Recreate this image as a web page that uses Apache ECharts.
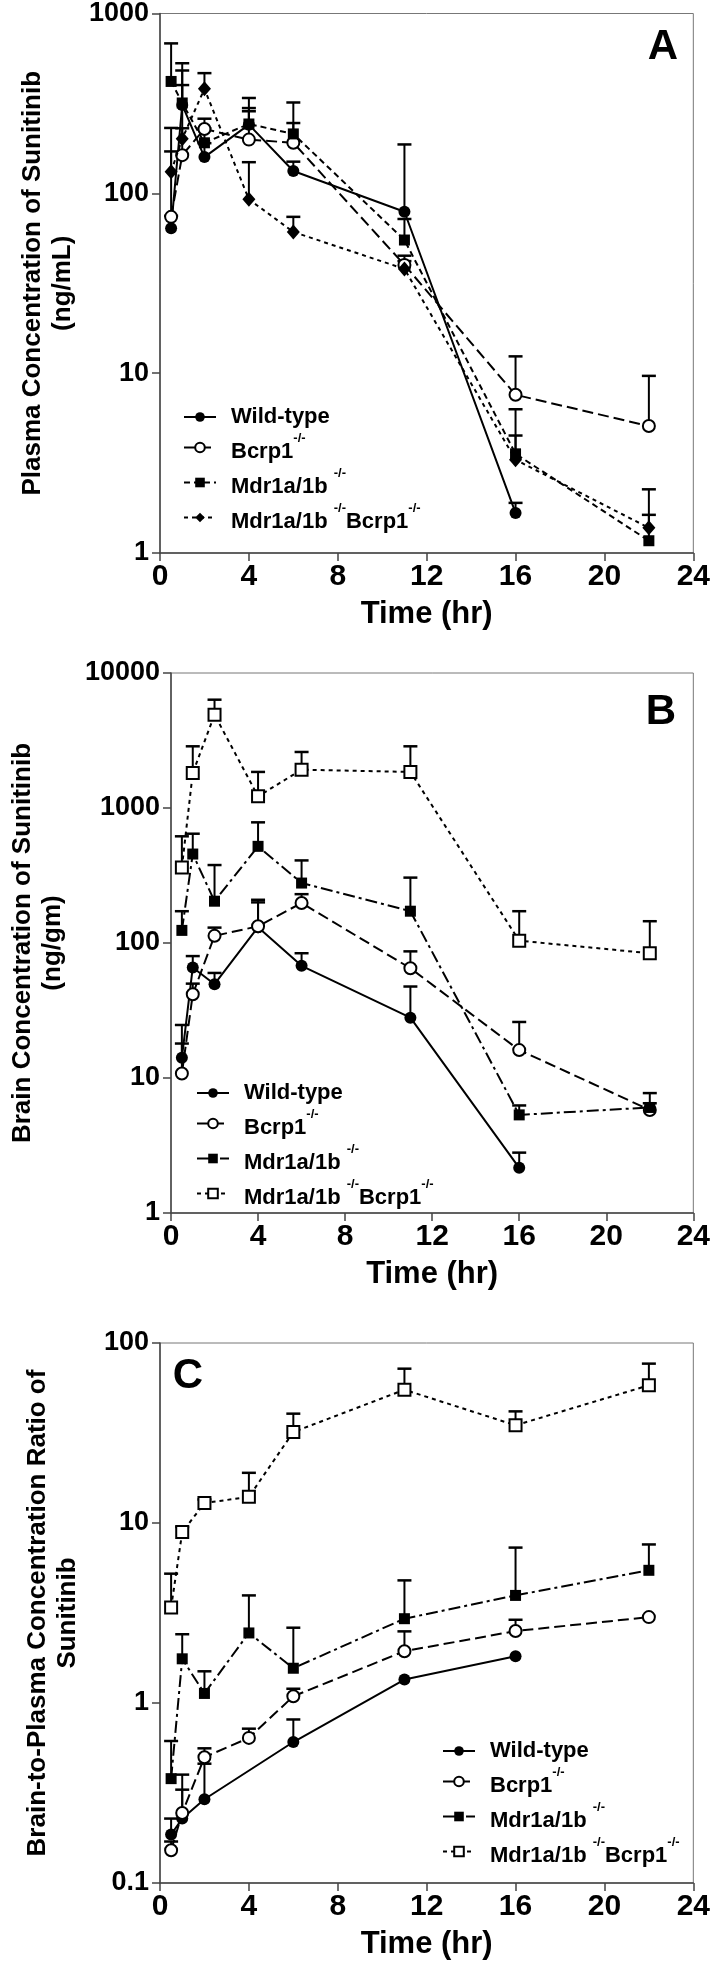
<!DOCTYPE html>
<html>
<head>
<meta charset="utf-8">
<script src="https://cdn.jsdelivr.net/npm/echarts@6/dist/echarts.min.js"></script>
<style>
html,body{margin:0;padding:0;background:#fff;}
#chart{width:713px;height:1964px;}
</style>
</head>
<body>
<div id="chart"></div>
<script>
// ---------- data ----------
const times = [0.5, 1, 2, 4, 6, 11, 16, 22];
const groupNames = ['Wild-type', 'Bcrp1', 'Mdr1a/1b', 'Mdr1a/1b Bcrp1'];
const xTicks = [0, 4, 8, 12, 16, 20, 24];

// Panel A: plasma concentration (ng/mL), mean and mean+SD
const plasmaWT      = [64, 310, 159, 241, 133, 79, 1.67, null];
const plasmaWTUp    = [75, 400, 190, 298, 150, 187, 1.9, null];
const plasmaBcrp    = [74, 163, 228, 199, 191, 40, 7.58, 5.08];
const plasmaBcrpUp  = [171, 230, 260, 286, 246, 45, 12.4, 9.66];
const plasmaMdr     = [419, 318, 191, 243, 214, 55, 3.56, 1.17];
const plasmaMdrUp   = [682, 529, 230, 339, 320, 72, 6.3, 1.63];
const plasmaDKO     = [132, 201, 381, 92.6, 61, 38, 3.3, 1.38];
const plasmaDKOUp   = [231, 482, 466, 149, 74, 42, 4.5, 2.26];

// Panel B: brain concentration (ng/gm)
const brainWT       = [14.1, 65.9, 49.5, 131, 67.8, 28, 2.16, null];
const brainWTUp     = [24.7, 80, 60, 209, 84, 47.6, 2.8, null];
const brainBcrp     = [10.8, 41.7, 113, 133, 198, 65, 16.1, 5.8];
const brainBcrpUp   = [18, 50, 130, 200, 230, 86.7, 26, 6.5];
const brainMdr      = [124, 456, 204, 520, 278, 172, 5.33, 6.05];
const brainMdrUp    = [172, 645, 378, 783, 409, 305, 6.26, 7.73];
const brainDKO      = [363, 1816, 4914, 1220, 1923, 1850, 104, 84];
const brainDKOUp    = [617, 2864, 6343, 1850, 2600, 2864, 172, 145];

// Panel C: brain-to-plasma ratio
const ratioWT       = [0.186, 0.228, 0.292, null, 0.607, 1.35, 1.82, null];
const ratioWTUp     = [0.228, 0.33, 0.46, null, 0.81, null, null, null];
const ratioBcrp     = [0.152, 0.245, 0.50, 0.64, 1.09, 1.94, 2.51, 3.0];
const ratioBcrpUp   = [0.17, 0.40, 0.56, 0.72, 1.2, 2.5, 2.9, null];
const ratioMdr      = [0.38, 1.76, 1.13, 2.45, 1.56, 2.94, 3.96, 5.46];
const ratioMdrUp    = [0.615, 2.41, 1.5, 3.96, 2.62, 4.8, 7.3, 7.6];
const ratioDKO      = [3.39, 8.9, 12.9, 13.97, 32, 55, 34.9, 58.2];
const ratioDKOUp    = [5.23, 9.5, 13.5, 19, 40.5, 72, 41.7, 76.8];

// ---------- styling / layout ----------
const FONT_N = '"Liberation Sans Narrow", "Liberation Sans", Arial, sans-serif';
const FONT = '"Liberation Sans", Arial, sans-serif';

const panels = [
  { key: 'A', top: 12, height: 541, ymin: 1, ymax: 1000,
    yname: 'Plasma Concentration of Sunitinib\n(ng/mL)', nameGap: 82,
    legend: { left: 178, top: 401 }, tag: { x: 663, y: 47 },
    groups: [
      { v: plasmaWT, u: plasmaWTUp, sym: 'circle', size: 12, open: false, dash: 'solid' },
      { v: plasmaBcrp, u: plasmaBcrpUp, sym: 'circle', size: 12, open: true, dash: [11, 5] },
      { v: plasmaMdr, u: plasmaMdrUp, sym: 'rect', size: 11, open: false, dash: [6, 4] },
      { v: plasmaDKO, u: plasmaDKOUp, sym: 'diamond', size: [13, 15], open: false, dash: [4, 4] }
    ] },
  { key: 'B', top: 673, height: 540, ymin: 1, ymax: 10000,
    yname: 'Brain Concentration of Sunitinib\n(ng/gm)', nameGap: 103,
    legend: { left: 191, top: 1077 }, tag: { x: 661, y: 712 },
    groups: [
      { v: brainWT, u: brainWTUp, sym: 'circle', size: 12, open: false, dash: 'solid' },
      { v: brainBcrp, u: brainBcrpUp, sym: 'circle', size: 12, open: true, dash: [11, 5] },
      { v: brainMdr, u: brainMdrUp, sym: 'rect', size: 11, open: false, dash: [12, 4, 3, 4] },
      { v: brainDKO, u: brainDKOUp, sym: 'rect', size: 12, open: true, dash: [4, 4] }
    ] },
  { key: 'C', top: 1343, height: 540, ymin: 0.1, ymax: 100,
    yname: 'Brain-to-Plasma Concentration Ratio of\nSunitinib', nameGap: 77,
    legend: { left: 437, top: 1735 }, tag: { x: 188, y: 1376 },
    groups: [
      { v: ratioWT, u: ratioWTUp, sym: 'circle', size: 12, open: false, dash: 'solid' },
      { v: ratioBcrp, u: ratioBcrpUp, sym: 'circle', size: 12, open: true, dash: [11, 5] },
      { v: ratioMdr, u: ratioMdrUp, sym: 'rect', size: 11, open: false, dash: [12, 4, 3, 4] },
      { v: ratioDKO, u: ratioDKOUp, sym: 'rect', size: 12, open: true, dash: [4, 4] }
    ] }
];

const grid = [], xAxis = [], yAxis = [], series = [], legend = [], graphic = [];

function legendLabel(name) {
  const n = name.split('|')[1];
  if (n === 'Wild-type') return '{w|Wild-type}';
  if (n === 'Bcrp1') return '{t|Bcrp1}{s|-/-}';
  if (n === 'Mdr1a/1b') return '{t|Mdr1a/1b }{s|-/-}';
  return '{t|Mdr1a/1b }{s|-/-}{u|Bcrp1}{s|-/-}';
}

function errRender(params, api) {
  const x = api.value(0), y = api.value(1), u = api.value(2);
  const p0 = api.coord([x, y]);
  const p1 = api.coord([x, u]);
  return {
    type: 'group',
    children: [
      { type: 'line', shape: { x1: p0[0], y1: p0[1], x2: p1[0], y2: p1[1] },
        style: { stroke: '#000', lineWidth: 2 } },
      { type: 'line', shape: { x1: p1[0] - 7, y1: p1[1], x2: p1[0] + 7, y2: p1[1] },
        style: { stroke: '#000', lineWidth: 2.5 } }
    ]
  };
}

panels.forEach((p, i) => {
  grid.push({ left: 160, right: 17, top: p.top, height: p.height,
    show: true, borderColor: '#777', borderWidth: 1, backgroundColor: '#fff' });
  xAxis.push({
    type: 'value', gridIndex: i, min: xTicks[0], max: xTicks[xTicks.length - 1], interval: 4,
    name: 'Time (hr)', nameLocation: 'middle', nameGap: 46,
    nameTextStyle: { fontFamily: FONT_N, fontWeight: 'bold', fontSize: 31, color: '#000' },
    axisLine: { onZero: false, lineStyle: { color: '#444', width: 1.5 } },
    axisTick: { length: 8, lineStyle: { color: '#444', width: 1.5 } },
    axisLabel: { margin: 9, fontFamily: FONT_N, fontWeight: 'bold', fontSize: 30, color: '#000' },
    splitLine: { show: false }
  });
  yAxis.push({
    type: 'log', logBase: 10, gridIndex: i, min: p.ymin, max: p.ymax,
    name: p.yname, nameLocation: 'middle', nameRotate: 90, nameGap: p.nameGap,
    nameTextStyle: { fontFamily: FONT, fontWeight: 'bold', fontSize: 26, lineHeight: 30, color: '#000' },
    axisLine: { lineStyle: { color: '#444', width: 1.5 } },
    axisTick: { length: 8, lineStyle: { color: '#444', width: 1.5 } },
    minorTick: { show: false },
    axisLabel: { margin: 11, fontFamily: FONT_N, fontWeight: 'bold', fontSize: 27, color: '#000',
      formatter: v => String(Number(v.toPrecision(6))) },
    splitLine: { show: false }
  });

  const legendNames = [];
  p.groups.forEach((g, k) => {
    const nm = p.key + '|' + groupNames[k];
    legendNames.push(nm);
    const pts = [], errs = [];
    times.forEach((t, j) => {
      if (g.v[j] != null) {
        pts.push([t, g.v[j]]);
        if (g.u[j] != null) errs.push([t, g.v[j], g.u[j]]);
      }
    });
    series.push({
      type: 'custom', name: nm + ' SD', xAxisIndex: i, yAxisIndex: i,
      renderItem: errRender, data: errs, encode: { x: 0, y: [1, 2] }, z: 2, silent: true
    });
    series.push({
      type: 'line', name: nm, xAxisIndex: i, yAxisIndex: i, data: pts,
      symbol: g.sym, symbolSize: g.size, showSymbol: true, showAllSymbol: true,
      connectNulls: true,
      itemStyle: { color: g.open ? '#fff' : '#000', borderColor: '#000', borderWidth: g.open ? 2 : 0 },
      lineStyle: { color: '#000', width: 2, type: g.dash },
      z: 3 + k, silent: true
    });
  });

  legend.push({
    data: legendNames, orient: 'vertical', left: p.legend.left, top: p.legend.top,
    itemGap: 4, itemWidth: 32, itemHeight: 12, selectedMode: false,
    formatter: legendLabel,
    textStyle: {
      color: '#000',
      rich: {
        w: { fontFamily: FONT, fontWeight: 'bold', fontSize: 22, padding: [0, 0, 0, 10] },
        t: { fontFamily: FONT, fontWeight: 'bold', fontSize: 22, padding: [9, 0, 0, 10], verticalAlign: 'bottom' },
        u: { fontFamily: FONT, fontWeight: 'bold', fontSize: 22, padding: [9, 0, 0, 0], verticalAlign: 'bottom' },
        s: { fontFamily: FONT, fontWeight: 'bold', fontSize: 13, verticalAlign: 'top' }
      }
    }
  });

  graphic.push({
    type: 'text', x: p.tag.x, y: p.tag.y, z: 10,
    style: { text: p.key, fontFamily: FONT, fontWeight: 'bold', fontSize: 42, fill: '#000',
      align: 'center', verticalAlign: 'middle' }
  });
});

const chart = echarts.init(document.getElementById('chart'), null, { renderer: 'canvas' });
chart.setOption({
  backgroundColor: '#fff',
  animation: false,
  grid, xAxis, yAxis, series, legend, graphic
});
</script>
</body>
</html>
